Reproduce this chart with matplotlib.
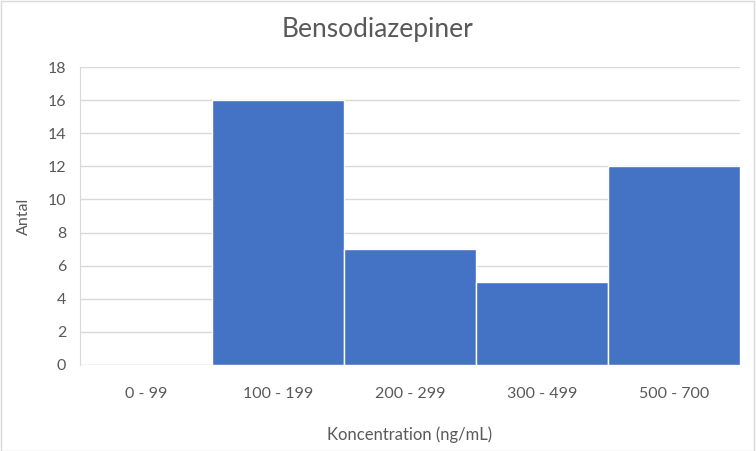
import matplotlib
matplotlib.use("Agg")
import matplotlib.pyplot as plt

categories = ["0 - 99", "100 - 199", "200 - 299", "300 - 499", "500 - 700"]
counts = [0, 16, 7, 5, 12]
yticks = [0, 2, 4, 6, 8, 10, 12, 14, 16, 18]

plt.rcParams['font.family'] = ['Lato', 'DejaVu Sans']
text_color = "#595959"
grid_color = "#D9D9D9"

fig = plt.figure(figsize=(7.56, 4.51), dpi=100)
ax = fig.add_axes([80/756, 86/451, 660/756, 298/451])

x = list(range(len(categories)))
ax.bar(x, counts, width=1.0, color="#4472C4", edgecolor="white", linewidth=1.0, zorder=3)

ax.set_xlim(-0.5, len(categories) - 0.5)
ax.set_ylim(0, 18)
ax.set_yticks(yticks)
ax.set_xticks(x)
ax.set_xticklabels(categories)
ax.yaxis.grid(True, color=grid_color, linewidth=1.0, zorder=0)
ax.set_axisbelow(True)

for s in ["top", "right", "bottom"]:
    ax.spines[s].set_visible(False)
ax.spines["left"].set_color(grid_color)
ax.axhline(0, color=grid_color, linewidth=1.0, zorder=1)

ax.tick_params(axis="both", length=0, colors=text_color, labelsize=11.5)
ax.tick_params(axis="y", pad=10)
ax.tick_params(axis="x", pad=16)

fig.text(0.5, 1 - 30/451, "Bensodiazepiner", fontsize=19, color=text_color,
         ha="center", va="center")
ax.set_xlabel("Koncentration (ng/mL)", fontsize=12, color=text_color, labelpad=18)
ax.set_ylabel("Antal", fontsize=11.5, color=text_color, labelpad=12)

border = plt.Rectangle((0.001, 0.001), 0.997, 0.997, transform=fig.transFigure,
                       fill=False, edgecolor=grid_color, linewidth=1.0)
fig.patches.append(border)

fig.savefig("out.png", dpi=100)
